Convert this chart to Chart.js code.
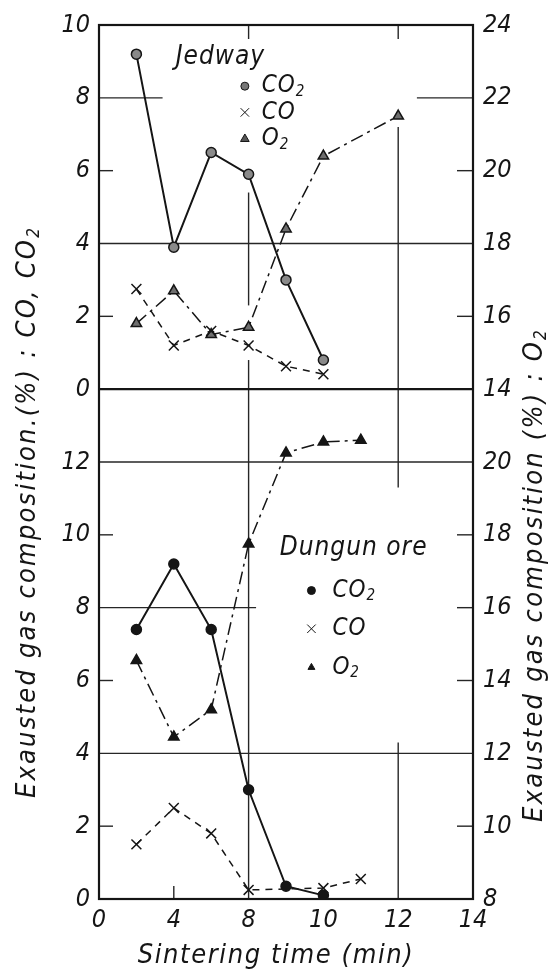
<!DOCTYPE html>
<html>
<head>
<meta charset="utf-8">
<script src="https://cdn.jsdelivr.net/npm/chart.js@4.4.1/dist/chart.umd.min.js"></script>
<style>
  html, body { margin: 0; padding: 0; background: #fff; overflow: hidden; }
  canvas { display: block; }
</style>
</head>
<body>
<canvas id="gasChart" width="559" height="975"></canvas>
<script>
// sintering time (min) ticks, the paper compresses 0-8 and stretches 8-14
const timeTicks = [0, 4, 8, 10, 12, 14];

// Jedway (upper panel)
const jedwayTimes = [2, 4, 6, 8, 9, 10];
const jedwayCO2 = [9.2, 3.9, 6.5, 5.9, 3.0, 0.8];
const jedwayCO = [2.75, 1.2, 1.6, 1.2, 0.63, 0.41];
const jedwayO2Times = [2, 4, 6, 8, 9, 10, 12];
const jedwayO2 = [15.8, 16.7, 15.5, 15.7, 18.4, 20.4, 21.5];

// Dungun ore (lower panel)
const dungunTimes = [2, 4, 6, 8, 9, 10];
const dungunCO2 = [7.4, 9.2, 7.4, 3.0, 0.35, 0.1];
const dungunCOTimes = [2, 4, 6, 8, 10, 11];
const dungunCO = [1.5, 2.5, 1.8, 0.25, 0.3, 0.55];
const dungunO2Times = [2, 4, 6, 8, 9, 10, 11];
const dungunO2 = [14.55, 12.45, 13.2, 17.75, 20.25, 20.55, 20.6];

// paper grid: horizontal rules [axis, value, fromTime, toTime]
const hRules = [
    ['yL1', 8, 0, 3.4], ['yL1', 4, 0, 14], ['yR1', 22, 12.5, 14],
    ['yL2', 12, 0, 14], ['yL2', 8, 0, 8.2], ['yL2', 4, 0, 14]
];
// vertical rules [time, axis, fromValue, toValue]
const vRules = [
    [8, 'yL1', 5.4, 2.3], [8, 'yL1', 0.8, 0], [8, 'yL2', 14, 0],
    [12, 'yR1', 21.2, 14], [12, 'yL2', 14, 11.3], [12, 'yL2', 4.3, 0]
];
// short inner ticks
const sideTicks = [['yL1', [2, 6]], ['yR1', [16, 20]], ['yL2', [2, 6, 10]], ['yR2', [10, 14, 16, 18]]];
const topTicks = [8, 12];
const bottomTicks = [4];

const FONT = '"Liberation Sans Narrow", "DejaVu Sans Condensed", "Liberation Sans", sans-serif';
const INK = '#151515';

const pts = (xs, ys) => xs.map((x, i) => ({ x: x, y: ys[i] }));

// linear scale with a break in slope at 8 min
class BrokenScale extends Chart.LinearScale {
    buildTicks() {
        return timeTicks.map(v => ({ value: v }));
    }
    getPixelForValue(v) {
        const u = v <= 8 ? v / 4 : 2 + (v - 8) / 2;
        return this.getPixelForDecimal(u / 5);
    }
    getValueForPixel(p) {
        const u = this.getDecimalForPixel(p) * 5;
        return u <= 2 ? u * 4 : 8 + (u - 2) * 2;
    }
}
BrokenScale.id = 'broken';
BrokenScale.defaults = Chart.LinearScale.defaults;
Chart.register(BrokenScale);

function line(ctx, x0, y0, x1, y1) {
    ctx.beginPath();
    ctx.moveTo(x0, y0);
    ctx.lineTo(x1, y1);
    ctx.stroke();
}

// draw text where parts beginning with '_' are subscripts
function richText(ctx, parts, x, y, size, align, spacing) {
    const big = 'italic ' + size + 'px ' + FONT;
    const small = 'italic ' + Math.round(size * 0.62) + 'px ' + FONT;
    ctx.letterSpacing = (spacing || 0) + 'px';
    let total = 0;
    const widths = parts.map(p => {
        ctx.font = p[0] === '_' ? small : big;
        const w = ctx.measureText(p[0] === '_' ? p.slice(1) : p).width;
        total += w;
        return w;
    });
    let cx = align === 'center' ? x - total / 2 : x;
    ctx.textAlign = 'left';
    ctx.textBaseline = 'middle';
    parts.forEach((p, i) => {
        const sub = p[0] === '_';
        ctx.font = sub ? small : big;
        ctx.fillText(sub ? p.slice(1) : p, cx, sub ? y + size * 0.25 : y);
        cx += widths[i];
    });
    ctx.letterSpacing = '0px';
}

const paperGrid = {
    id: 'paperGrid',
    beforeDatasetsDraw(chart) {
        const { ctx, chartArea: a, scales } = chart;
        const xs = scales.x;
        ctx.save();
        ctx.strokeStyle = '#262626';
        ctx.lineWidth = 1.4;
        hRules.forEach(([id, v, t0, t1]) => {
            const y = scales[id].getPixelForValue(v);
            line(ctx, xs.getPixelForValue(t0), y, xs.getPixelForValue(t1), y);
        });
        vRules.forEach(([t, id, v0, v1]) => {
            const x = xs.getPixelForValue(t);
            line(ctx, x, scales[id].getPixelForValue(v0), x, scales[id].getPixelForValue(v1));
        });
        sideTicks.forEach(([id, vals]) => {
            const s = scales[id];
            vals.forEach(v => {
                const y = s.getPixelForValue(v);
                if (s.position === 'left') line(ctx, a.left, y, a.left + 14, y);
                else line(ctx, a.right - 16, y, a.right, y);
            });
        });
        topTicks.forEach(t => line(ctx, xs.getPixelForValue(t), a.top, xs.getPixelForValue(t), a.top + 14));
        bottomTicks.forEach(t => line(ctx, xs.getPixelForValue(t), a.bottom, xs.getPixelForValue(t), a.bottom - 13));
        // frame and panel divider
        ctx.lineWidth = 2.2;
        ctx.strokeStyle = INK;
        ctx.strokeRect(a.left, a.top, a.width, a.height);
        const mid = scales.yL1.getPixelForValue(0);
        line(ctx, a.left, mid, a.right, mid);
        ctx.restore();
    },
    afterDraw(chart) {
        const { ctx, scales } = chart;
        const xs = scales.x;
        ctx.save();
        ctx.fillStyle = INK;
        ctx.strokeStyle = INK;

        // axis titles
        ctx.save();
        ctx.translate(28, 512);
        ctx.rotate(-Math.PI / 2);
        richText(ctx, ['Exausted gas composition.(%) : CO, CO', '_2'], 0, 0, 27, 'center', 2.2);
        ctx.restore();
        ctx.save();
        ctx.translate(535, 575);
        ctx.rotate(-Math.PI / 2);
        richText(ctx, ['Exausted gas composition (%) : O', '_2'], 0, 0, 27, 'center', 2.2);
        ctx.restore();
        richText(ctx, ['Sintering time (min)'], 276, 956, 27, 'center', 1.6);

        // panel keys
        const key = (id, name, nx, ny, mx, tx, rows) => {
            const s = scales[id];
            richText(ctx, [name], xs.getPixelForValue(nx), s.getPixelForValue(ny), 26, 'left', 1);
            rows.forEach(r => {
                const y = s.getPixelForValue(r.y);
                ctx.fillStyle = r.fill;
                Chart.helpers.drawPoint(ctx, { pointStyle: r.style, radius: r.radius, borderWidth: 1.4 }, xs.getPixelForValue(mx), y);
                ctx.fillStyle = INK;
                richText(ctx, r.text, xs.getPixelForValue(tx), y, 24, 'left', 1);
            });
        };
        key('yL1', 'Jedway', 4.1, 9.12, 7.8, 8.35, [
            { y: 8.32, style: 'circle', radius: 4, fill: '#777', text: ['CO', '_2'] },
            { y: 7.6, style: 'crossRot', radius: 6, fill: INK, text: ['CO'] },
            { y: 6.87, style: 'triangle', radius: 5, fill: '#555', text: ['O', '_2'] }
        ]);
        key('yL2', 'Dungun ore', 8.83, 9.62, 9.68, 10.24, [
            { y: 8.47, style: 'circle', radius: 4, fill: INK, text: ['CO', '_2'] },
            { y: 7.42, style: 'crossRot', radius: 6, fill: INK, text: ['CO'] },
            { y: 6.36, style: 'triangle', radius: 4, fill: INK, text: ['O', '_2'] }
        ]);
        ctx.restore();
    }
};

const tickFont = { family: FONT, size: 25, style: 'italic' };
const yAxis = (position, stack, weight, min, max, hideTop) => ({
    type: 'linear',
    position: position,
    stack: stack,
    stackWeight: weight,
    min: min,
    max: max,
    grid: { display: false, drawTicks: false },
    border: { display: false },
    afterFit: s => { s.width = position === 'left' ? 99 : 86; },
    ticks: {
        stepSize: 2,
        padding: position === 'left' ? 9 : 10,
        color: INK,
        font: tickFont,
        callback: v => (hideTop && v === max ? '' : v)
    }
});

const series = (data, axis, style, dash, width, radius, fill) => ({
    data: data,
    yAxisID: axis,
    borderColor: INK,
    borderWidth: width,
    borderDash: dash,
    pointStyle: style,
    pointRadius: radius,
    pointBorderWidth: 1.5,
    pointBorderColor: INK,
    pointBackgroundColor: fill,
    tension: 0,
    fill: false
});

new Chart(document.getElementById('gasChart'), {
    type: 'line',
    data: {
        datasets: [
            Object.assign(series(pts(jedwayTimes, jedwayCO2), 'yL1', 'circle', [], 2, 5, '#8a8a8a'), { label: 'Jedway CO2' }),
            Object.assign(series(pts(jedwayTimes, jedwayCO), 'yL1', 'crossRot', [7, 6], 1.5, 7, INK), { label: 'Jedway CO' }),
            Object.assign(series(pts(jedwayO2Times, jedwayO2), 'yR1', 'triangle', [13, 5, 3, 5], 1.5, 6, '#6e6e6e'), { label: 'Jedway O2' }),
            Object.assign(series(pts(dungunTimes, dungunCO2), 'yL2', 'circle', [], 2, 5, INK), { label: 'Dungun CO2' }),
            Object.assign(series(pts(dungunCOTimes, dungunCO), 'yL2', 'crossRot', [7, 6], 1.5, 7, INK), { label: 'Dungun CO' }),
            Object.assign(series(pts(dungunO2Times, dungunO2), 'yR2', 'triangle', [13, 5, 3, 5], 1.5, 6, INK), { label: 'Dungun O2' })
        ]
    },
    options: {
        responsive: false,
        animation: false,
        devicePixelRatio: 1,
        layout: { padding: { top: 23, left: 0, right: 0, bottom: 0 } },
        plugins: {
            legend: { display: false },
            tooltip: { enabled: false }
        },
        scales: {
            x: {
                type: 'broken',
                position: 'bottom',
                min: 0,
                max: 14,
                grid: { display: false, drawTicks: false },
                border: { display: false },
                afterFit: s => { s.height = 76; },
                ticks: {
                    autoSkip: false,
                    maxRotation: 0,
                    padding: 6,
                    color: INK,
                    font: tickFont
                }
            },
            // left boxes are laid out in reverse order, so the lower panel comes first
            yL2: yAxis('left', 'L', 14, 0, 14, true),
            yL1: yAxis('left', 'L', 10, 0, 10, false),
            yR1: yAxis('right', 'R', 10, 14, 24, false),
            yR2: yAxis('right', 'R', 14, 8, 22, true)
        }
    },
    plugins: [paperGrid]
});
</script>
</body>
</html>
